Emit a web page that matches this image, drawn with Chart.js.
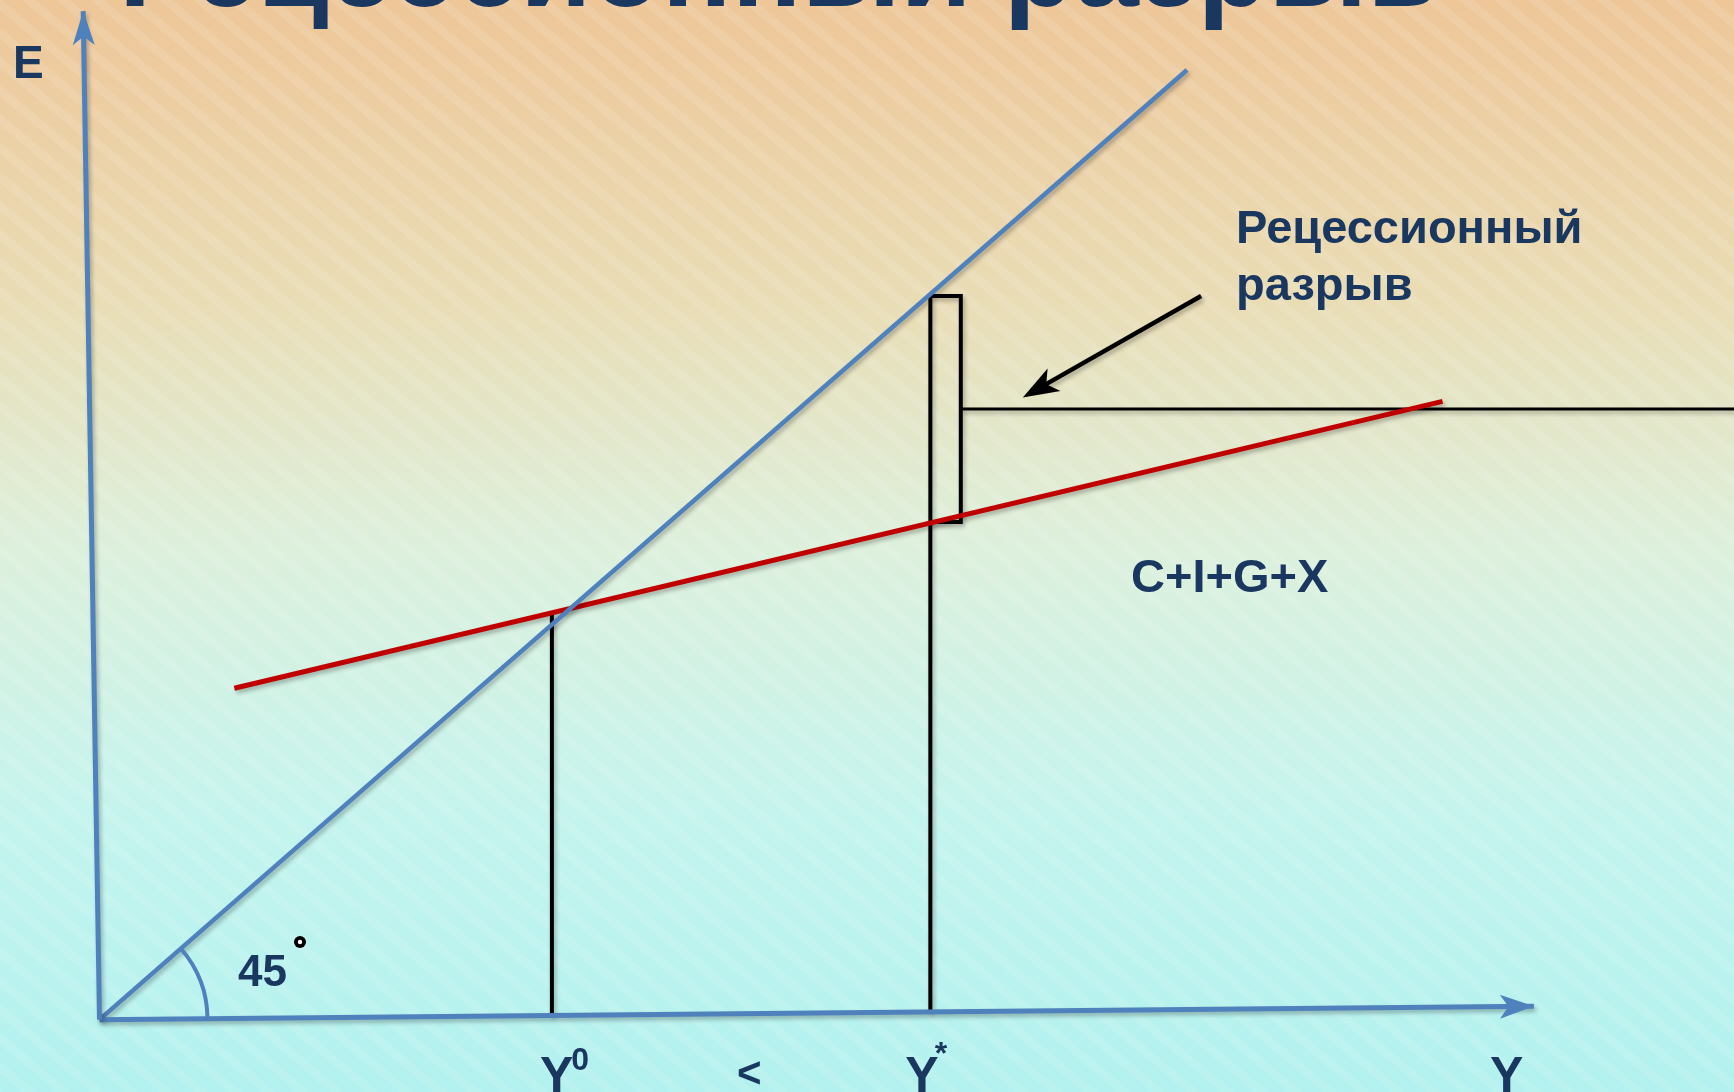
<!DOCTYPE html>
<html>
<head>
<meta charset="utf-8">
<script src="https://cdn.jsdelivr.net/npm/chart.js@4/dist/chart.umd.min.js"></script>
<style>
  html, body { margin: 0; padding: 0; overflow: hidden; }
  #wrap { width: 1734px; height: 1092px; position: relative; }
</style>
</head>
<body>
<div id="wrap"><canvas id="gapChart"></canvas></div>
<script>
// income Y on x, expenditure E on y
const eAxisEnd = [-1.5, 106.2];
const yAxisEnd = [131.9, 1.4];
const diagonalY = [0, 100];           // E = Y (45 deg line)
const aeY = [12.4, 123.5];            // C+I+G+X
const aeE = [34.9, 65.1];
const equilibriumY = 41.6;            // Y0
const equilibriumE = 42.7;
const potentialY = 76.4;              // Y*
const gapE = [52.4, 76.2];            // bottom / top of the gap
const gapRightY = 79.2;
const gapLevelE = 64.3;
const pointerFrom = [101.3, 76.2];
const pointerTo = [84.9, 65.5];

const NAVY = '#1A3760';
const BLUE = '#4F81BD';
const FONT = '"Liberation Sans", Arial, sans-serif';

function pts(xs, ys) {
    return xs.map((x, i) => ({ x: x, y: ys[i] }));
}

function lineSet(data, color, width) {
    return {
        data: data,
        showLine: true,
        borderColor: color,
        borderWidth: width,
        pointRadius: 0,
        fill: false,
        tension: 0,
        clip: false,
    };
}

function arrowHead(ctx, tx, ty, fx, fy, len, half, color) {
    const a = Math.atan2(ty - fy, tx - fx);
    ctx.save();
    ctx.translate(tx, ty);
    ctx.rotate(a);
    ctx.beginPath();
    ctx.moveTo(0, 0);
    ctx.lineTo(-len, -half);
    ctx.lineTo(-len * 0.75, 0);
    ctx.lineTo(-len, half);
    ctx.closePath();
    ctx.fillStyle = color;
    ctx.fill();
    ctx.restore();
}

const slideBackground = {
    id: 'slideBackground',
    beforeDraw(chart) {
        const { ctx, width, height } = chart;
        const g = ctx.createLinearGradient(0, 0, 0, height);
        g.addColorStop(0, '#EEC698');
        g.addColorStop(0.28, '#E9DDB6');
        g.addColorStop(0.5, '#DDF0DC');
        g.addColorStop(0.75, '#C4F4EE');
        g.addColorStop(1, '#B2F1EF');
        ctx.save();
        ctx.fillStyle = g;
        ctx.fillRect(0, 0, width, height);
        ctx.translate(width / 2, height / 2);
        ctx.rotate(40 * Math.PI / 180);
        ctx.fillStyle = 'rgba(255,255,255,0.11)';
        for (let y = -1600; y < 1600; y += 22) {
            ctx.fillRect(-1600, y, 3200, 9);
        }
        ctx.restore();
    },
};

const lineShadow = {
    id: 'lineShadow',
    beforeDatasetsDraw(chart) {
        const ctx = chart.ctx;
        ctx.save();
        ctx.shadowColor = 'rgba(0,0,0,0.28)';
        ctx.shadowBlur = 4;
        ctx.shadowOffsetX = 2;
        ctx.shadowOffsetY = 3;
    },
    afterDatasetsDraw(chart) {
        chart.ctx.restore();
    },
};

const slideText = {
    id: 'slideText',
    afterDraw(chart) {
        const ctx = chart.ctx;
        const sx = chart.scales.x, sy = chart.scales.y;
        const px = v => sx.getPixelForValue(v);
        const py = v => sy.getPixelForValue(v);
        const ox = px(0), oy = py(0);

        // axis arrowheads
        arrowHead(ctx, px(eAxisEnd[0]), py(eAxisEnd[1]), ox, oy, 34, 11, BLUE);
        arrowHead(ctx, px(yAxisEnd[0]), py(yAxisEnd[1]), ox, oy, 34, 12, BLUE);
        // pointer arrowhead
        arrowHead(ctx, px(pointerTo[0]), py(pointerTo[1]), px(pointerFrom[0]), py(pointerFrom[1]), 36, 13, '#000');

        // 45 degree arc
        ctx.save();
        ctx.strokeStyle = BLUE;
        ctx.lineWidth = 4;
        ctx.beginPath();
        ctx.arc(ox, oy, 108, -41 * Math.PI / 180, -0.5 * Math.PI / 180);
        ctx.stroke();
        ctx.restore();

        ctx.save();
        ctx.fillStyle = NAVY;
        ctx.textBaseline = 'alphabetic';
        ctx.textAlign = 'left';

        // title, cut by the top edge
        const title = 'Рецессионный разрыв';
        ctx.font = 'bold 111px ' + FONT;
        const tw = ctx.measureText(title).width;
        const ts = 111 * 1319 / tw;
        ctx.font = 'bold ' + ts.toFixed(1) + 'px ' + FONT;
        ctx.fillText(title, 119, 6);

        ctx.font = 'bold 46px ' + FONT;
        ctx.fillText('E', 13, 78);

        ctx.font = 'bold 47px ' + FONT;
        ctx.fillText('Рецессионный', 1236, 243);
        ctx.fillText('разрыв', 1236, 300);

        ctx.fillText('C+I+G+X', 1131, 592);
        ctx.font = 'bold 44px ' + FONT;
        ctx.fillText('45', 238, 986);

        // degree sign
        ctx.beginPath();
        ctx.arc(300, 942, 6, 0, Math.PI * 2);
        ctx.fillStyle = '#000';
        ctx.fill();
        ctx.beginPath();
        ctx.arc(300, 942, 2.2, 0, Math.PI * 2);
        ctx.fillStyle = '#fff';
        ctx.fill();

        // income labels under the axis
        ctx.fillStyle = NAVY;
        const base = 1092;
        ctx.font = 'bold 50px ' + FONT;
        const y0x = px(equilibriumY) - 12;
        ctx.fillText('Y', y0x, base);
        const yw = ctx.measureText('Y').width;
        const ysx = px(potentialY) - 25;
        ctx.fillText('Y', ysx, base);
        ctx.fillText('Y', 1490, base);
        ctx.font = 'bold 32px ' + FONT;
        ctx.fillText('0', y0x + yw - 2, 1070);
        ctx.fillText('*', ysx + yw - 4, 1064);
        ctx.font = 'bold 42px ' + FONT;
        ctx.fillText('<', 737, 1087);
        ctx.restore();
    },
};

const ctx = document.getElementById('gapChart').getContext('2d');

new Chart(ctx, {
    type: 'scatter',
    data: {
        datasets: [
            lineSet([{ x: 0, y: 0 }, { x: eAxisEnd[0], y: eAxisEnd[1] }], BLUE, 5),
            lineSet([{ x: 0, y: 0 }, { x: yAxisEnd[0], y: yAxisEnd[1] }], BLUE, 5),
            lineSet(pts(diagonalY, diagonalY), BLUE, 4.5),
            lineSet(pts(aeY, aeE), '#C00000', 5),
            lineSet([{ x: equilibriumY, y: 0.4 }, { x: equilibriumY, y: equilibriumE }], '#000', 4),
            lineSet([{ x: potentialY, y: 0.8 }, { x: potentialY, y: gapE[1] }], '#000', 4),
            lineSet([
                { x: potentialY, y: gapE[1] },
                { x: gapRightY, y: gapE[1] },
                { x: gapRightY, y: gapE[0] },
                { x: potentialY, y: gapE[0] },
            ], '#000', 4),
            lineSet([{ x: gapRightY, y: gapLevelE }, { x: 150.3, y: gapLevelE }], '#000', 3),
            lineSet(pts([pointerFrom[0], pointerTo[0] + 1.5], [pointerFrom[1], pointerTo[1] + 1]), '#000', 4.5),
        ],
    },
    options: {
        responsive: true,
        maintainAspectRatio: false,
        animation: false,
        layout: { padding: 0 },
        plugins: {
            legend: { display: false },
            tooltip: { enabled: false },
        },
        scales: {
            x: { type: 'linear', min: -9.15, max: 150.3, display: false },
            y: { type: 'linear', min: -7.62, max: 107.37, display: false },
        },
    },
    plugins: [slideBackground, lineShadow, slideText],
});
</script>
</body>
</html>
